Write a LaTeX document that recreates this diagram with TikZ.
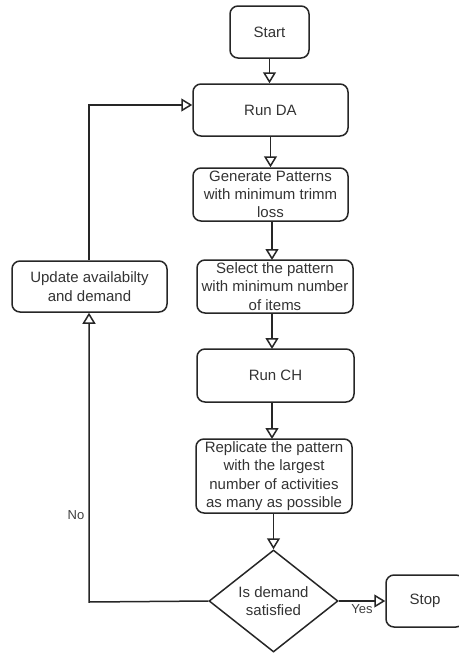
\documentclass[tikz,border=0pt]{standalone}
\usepackage{fontspec}
\setmainfont{Liberation Sans}
\usetikzlibrary{shapes.geometric,arrows.meta}
\begin{document}
\begin{tikzpicture}[x=1pt,y=-1pt,
  every node/.style={font=\fontsize{15}{18.3}\selectfont, text=black!80},
  box/.style={draw=black!85, line width=1.5pt, rounded corners=8pt, align=center,
    inner sep=0pt, minimum width=#1},
  decision/.style={draw=black!85, line width=1.5pt, diamond, aspect=1.265,
    inner sep=0pt, minimum width=129pt, minimum height=102pt, align=center},
  arr/.style={draw=black!85, line width=1.5pt,
    -{Triangle[open, width=13pt, length=11pt, fill=white]}},
  lbl/.style={font=\fontsize{13}{15}\selectfont, text=black!75, inner sep=1pt}]
  \useasboundingbox (0,0) rectangle (458,653);

  % process boxes
  \node[box=79pt, minimum height=52pt] (start) at (269.5,32) {Start};
  \node[box=155pt, minimum height=52pt] (runda) at (270.5,110) {Run DA};
  \node[box=155pt, minimum height=53pt] (gen) at (270.5,194.5)
    {Generate Patterns\\with minimum trimm\\loss};
  \node[box=156pt, minimum height=53pt] (sel) at (275,286.5)
    {Select the pattern\\with minimum number\\of items};
  \node[box=157pt, minimum height=53pt] (ch) at (275.5,375.5) {Run CH};
  \node[box=156pt, minimum height=74pt] (rep) at (274,476)
    {Replicate the pattern\\with the largest\\number of activities\\as many as possible};
  \node[decision] (dec) at (273.5,601) {Is demand\\satisfied};
  \node[box=78pt, minimum height=52pt] (stop) at (425,601) {Stop};
  \node[box=155pt, minimum height=51pt] (upd) at (89.5,286.5)
    {Update availabilty\\and demand};

  % loop corner points
  \coordinate (c1) at (89,602);
  \coordinate (c2) at (89,105);

  % connectors
  \draw[arr] (start.south) -- (start.south |- runda.north);
  \draw[arr] (runda.south) -- (runda.south |- gen.north);
  \draw[arr] (272,221) -- (272,260);
  \draw[arr] (272,313) -- (272,349);
  \draw[arr] (272,402) -- (272,439);
  \draw[arr] (rep.south -| dec.north) -- (dec.north);
  \draw[arr] (dec.east) -- (stop.west) node[lbl, pos=0.5, below=2pt] {Yes};
  \draw[arr] (dec.west) -- (c1) -- (upd.south -| c1) node[lbl, pos=0.3, left=3pt] {No};
  \draw[arr] (upd.north -| c2) -- (c2) -- (c2 -| runda.west);
\end{tikzpicture}
\end{document}
